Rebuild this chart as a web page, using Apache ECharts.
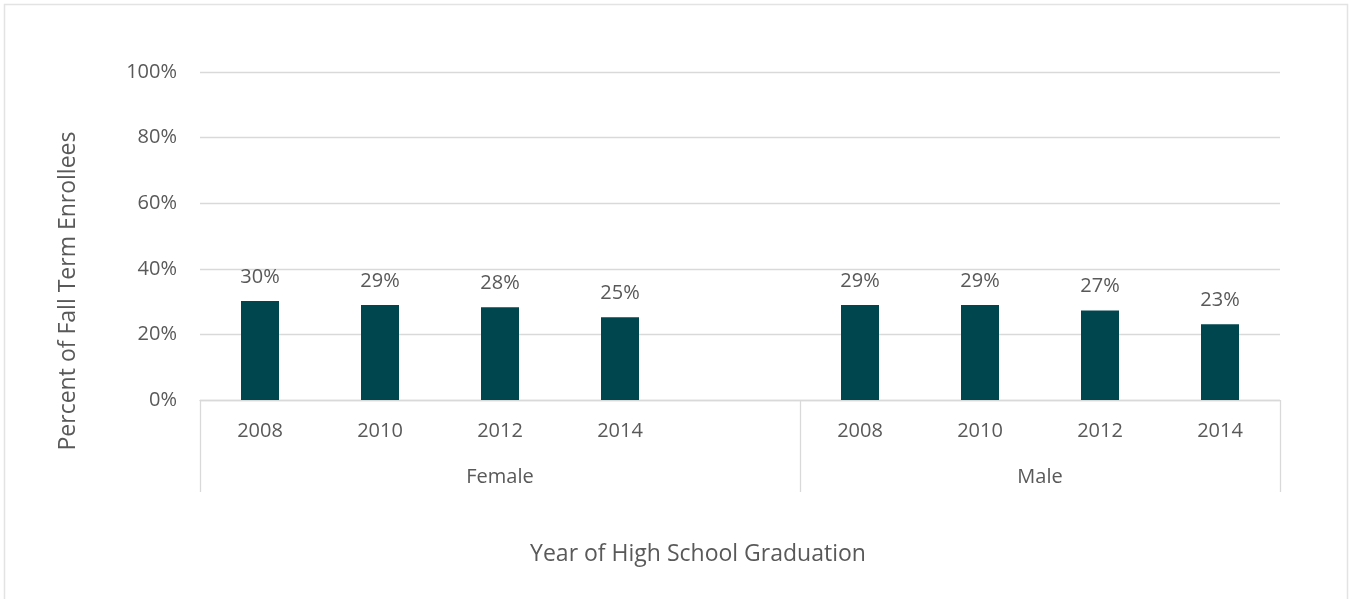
<!DOCTYPE html>
<html>
<head>
<meta charset="utf-8">
<script src="https://cdn.jsdelivr.net/npm/echarts@6/dist/echarts.min.js"></script>
<style>
html,body{margin:0;padding:0;background:#fff;}
#chart{width:1351px;height:599px;}
</style>
</head>
<body>
<div id="chart"></div>
<script>
// ---- data ----
var categories = ['2008', '2010', '2012', '2014', '', '2008', '2010', '2012', '2014'];
var values = [30.2, 29.0, 28.3, 25.2, null, 29.0, 29.0, 27.3, 23.1];
var groups = ['Female', 'Male'];
var groupSpans = [5, 4]; // number of category slots per group
var yTicks = [0, 20, 40, 60, 80, 100];

var xTitle = 'Year of High School Graduation';
var yTitle = 'Percent of Fall Term Enrollees';

// group boundaries (slot index where each group starts) and centers in half-slot units
var groupStarts = [];
var groupCentersHalf = {};
var acc = 0;
groups.forEach(function (g, i) {
  groupStarts.push(acc);
  groupCentersHalf[acc * 2 + groupSpans[i]] = g;
  acc += groupSpans[i];
});
var totalSlots = acc;

var FONT = 'Open Sans';
var TXT = '#595959';
var GRID = '#d9d9d9';

var chart = echarts.init(document.getElementById('chart'));
chart.setOption({
  animation: false,
  textStyle: { fontFamily: FONT },
  graphic: [{
    type: 'rect',
    shape: { x: 4.5, y: 4.5, width: 1343, height: 620 },
    style: { fill: 'none', stroke: '#e3e3e3', lineWidth: 1.5 },
    silent: true
  }],
  grid: { left: 200, right: 71, top: 72, bottom: 199, containLabel: false },
  xAxis: [{
    type: 'category',
    data: categories,
    position: 'bottom',
    axisLine: { show: true, lineStyle: { color: GRID, width: 1.3 } },
    axisTick: {
      show: true,
      length: 92,
      interval: function (index) { return groupStarts.indexOf(index) >= 0; },
      lineStyle: { color: GRID, width: 1.3 }
    },
    axisLabel: { interval: 0, color: TXT, fontSize: 20, margin: 21, fontFamily: FONT },
    name: xTitle,
    nameLocation: 'middle',
    nameGap: 143,
    nameTextStyle: { color: TXT, fontSize: 23, fontFamily: FONT, padding: [0, 84, 0, 0] }
  }, {
    type: 'value',
    position: 'bottom',
    min: 0,
    max: totalSlots * 2,
    interval: 1,
    axisLine: { show: false },
    axisTick: { show: false },
    splitLine: { show: false },
    axisLabel: {
      color: TXT, fontSize: 20, margin: 67, fontFamily: FONT,
      showMinLabel: true, showMaxLabel: true,
      formatter: function (v) { return groupCentersHalf[Math.round(v)] || ''; }
    }
  }],
  yAxis: {
    type: 'value',
    min: yTicks[0],
    max: yTicks[yTicks.length - 1],
    interval: yTicks[1] - yTicks[0],
    axisLine: { show: false },
    axisTick: { show: false },
    splitLine: { lineStyle: { color: GRID, width: 1.3 } },
    axisLabel: { color: TXT, fontSize: 20, margin: 23, fontFamily: FONT, formatter: '{value}%' },
    name: yTitle,
    nameLocation: 'middle',
    nameGap: 120,
    nameTextStyle: { color: TXT, fontSize: 23, fontFamily: FONT, padding: [0, 110, 0, 0] }
  },
  series: [{
    type: 'bar',
    xAxisIndex: 0,
    data: values,
    barWidth: 38,
    itemStyle: { color: '#00464f' },
    label: {
      show: true,
      position: 'top',
      distance: 14,
      color: TXT,
      fontSize: 20,
      fontFamily: FONT,
      formatter: function (p) { return p.value == null ? '' : Math.round(p.value) + '%'; }
    }
  }]
});
</script>
</body>
</html>
